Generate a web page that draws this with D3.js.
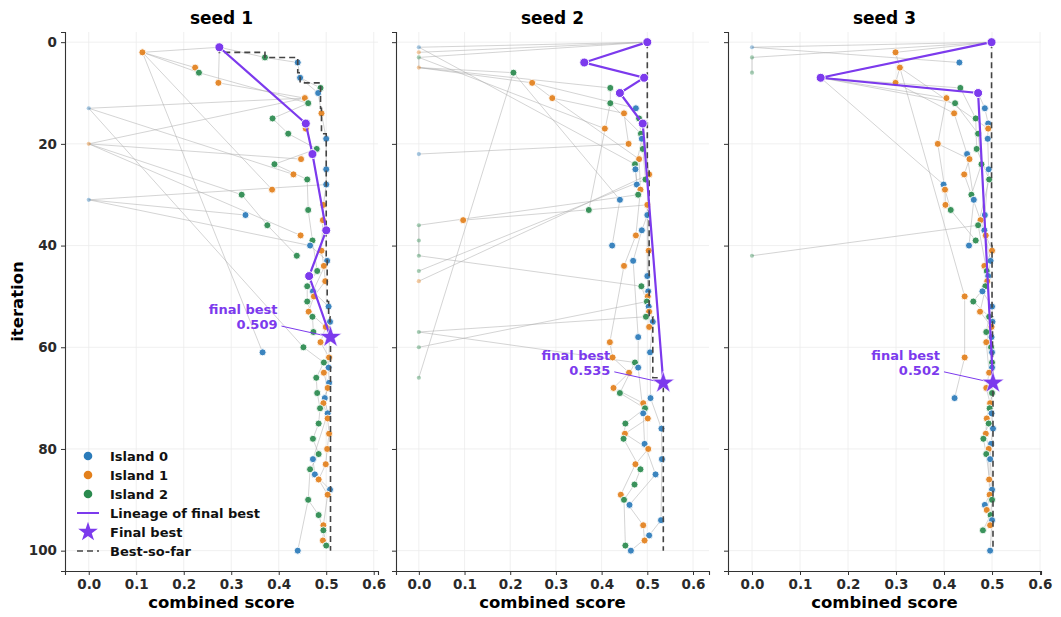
<!DOCTYPE html>
<html>
<head>
<meta charset="utf-8">
<script src="https://cdn.jsdelivr.net/npm/d3@7"></script>
<style>
  body { margin: 0; background: #fff; }
  svg { font-family: "DejaVu Sans", sans-serif; }
</style>
</head>
<body>
<div class="chart"></div>
<script>
// ---- data ----
const seedTitles = ["seed 1", "seed 2", "seed 3"];
const islandNames = ["Island 0", "Island 1", "Island 2"];
const xTicks = [0, 0.1, 0.2, 0.3, 0.4, 0.5, 0.6];
const yTicks = [0, 20, 40, 60, 80, 100];
const finalBest = [0.509, 0.535, 0.502];

// seed 1
const s1Iter = [1,2,3,4,5,6,7,8,9,10,11,12,13,14,15,16,17,18,19,20,21,22,23,24,25,26,27,28,29,30,
  31,32,33,34,35,36,37,38,39,40,41,42,43,44,45,46,47,48,49,50,51,52,53,54,55,56,57,58,59,60,
  61,62,63,64,65,66,67,68,69,70,71,72,73,74,75,77,78,80,81,82,83,84,85,86,88,89,90,93,95,96,98,99,100];
const s1Score = [0.275,0.113,0.371,0.44,0.224,0.232,0.445,0.273,0.488,0.483,
  0.455,0.462,0,0.49,0.387,0.457,0.457,0.42,0.5,0,
  0.48,0.471,0.447,0.391,0.5,0.431,0.46,0.5,0.386,0.322,
  0,0.494,0.462,0.33,0.493,0.376,0.5,0.446,0.471,0.466,
  0.49,0.438,0.502,0.495,0.481,0.464,0.498,0.46,0.472,0.474,
  0.46,0.505,0.463,0.471,0.508,0.499,0.473,0.509,0.488,0.452,
  0.366,0.506,0.495,0.505,0.495,0.479,0.506,0.503,0.481,0.497,
  0.494,0.487,0.503,0.503,0.484,0.506,0.472,0.502,0.484,0.472,
  0.499,0.466,0.476,0.484,0.508,0.503,0.462,0.484,0.494,0.494,0.493,0.5,0.44];
const s1Island = [0,1,2,0,1,2,0,1,2,0,1,2,0,1,2,0,1,2,0,1,2,0,1,2,0,1,2,0,1,2,
  0,1,2,0,1,2,0,1,2,0,1,2,0,1,2,0,1,2,0,1,2,0,1,2,0,1,2,0,1,2,
  0,1,2,0,1,2,0,1,2,0,1,2,0,1,2,1,2,1,2,0,1,2,0,1,0,1,2,2,1,2,1,2,0];
const s1Parent = [-1,1,1,3,2,2,4,1,7,7,8,6,11,10,12,1,16,15,14,11,
  18,16,20,21,19,13,24,25,2,20,28,28,27,31,32,30,22,20,33,31,
  35,36,40,41,39,37,44,45,43,47,48,49,50,51,52,53,54,46,56,13,
  2,59,60,55,62,63,64,65,66,67,68,69,70,71,72,74,75,77,78,73,
  80,81,82,83,85,86,84,90,89,93,95,96,90];
const s1Lineage = [1, 16, 22, 37, 46, 58];

// seed 2
const s2Iter = [0,1,2,3,4,5,6,7,8,9,10,11,12,13,14,15,16,17,18,19,20,21,22,23,24,25,26,27,28,29,30,
  31,32,33,34,35,36,37,38,39,40,41,42,43,44,45,46,47,48,49,50,51,52,53,54,55,56,57,58,59,60,
  61,62,63,64,65,66,67,68,69,70,71,72,73,74,75,76,77,78,79,80,82,83,84,85,87,89,90,91,94,95,97,98,99,100];
const s2Score = [0.5,0,0,0,0.362,0,0.207,0.493,0.248,0.419,0.44,
  0.292,0.419,0.475,0.449,0.482,0.49,0.407,0.486,0.488,0.459,
  0.49,0,0.482,0.473,0.474,0.504,0.496,0.477,0.485,0.48,
  0.44,0.5,0.372,0.5,0.097,0,0.488,0.475,0,0.423,
  0.503,0,0.469,0.449,0,0.5,0,0.487,0.502,0.501,
  0.499,0.503,0.504,0.497,0.512,0.504,0,0.48,0.418,0,
  0.506,0.424,0.473,0.48,0.46,0,0.535,0.426,0.44,0.507,
  0.491,0.495,0.491,0.501,0.452,0.531,0.451,0.448,0.494,0.502,
  0.532,0.474,0.485,0.518,0.472,0.442,0.449,0.461,0.53,0.491,0.504,0.494,0.452,0.464];
const s2Island = [0,0,1,2,0,1,2,0,1,2,0,1,2,0,1,2,0,1,2,0,1,2,0,1,2,0,1,2,0,1,2,
  0,1,2,0,1,2,0,1,2,0,1,2,0,1,2,0,1,2,0,1,2,0,1,2,0,1,2,0,1,2,
  0,1,2,0,1,2,0,1,2,0,1,2,0,1,2,0,1,2,0,1,0,1,2,0,2,1,2,0,0,1,0,1,2,0];
const s2Parent = [-1,0,0,0,0,3,5,4,5,5,7,8,9,8,11,10,10,3,12,16,14,
  15,20,11,1,19,16,21,25,23,24,6,26,12,32,32,30,34,29,36,31,
  32,39,37,38,27,34,26,42,46,41,48,49,50,51,52,53,54,43,44,51,
  55,59,57,58,62,6,16,65,63,61,68,69,64,71,72,70,74,75,73,77,
  76,80,78,79,84,83,87,85,82,89,94,95,90,97];
const s2Lineage = [0, 4, 7, 10, 16, 67];

// seed 3
const s3Iter = [0,1,2,3,4,5,6,7,8,9,10,11,12,13,14,15,16,17,18,19,20,21,22,23,24,25,26,27,28,29,30,
  31,32,33,34,35,36,37,38,39,40,41,42,43,44,45,46,47,48,49,50,51,52,53,54,55,56,57,58,59,60,
  61,62,63,64,65,67,68,69,70,71,72,73,74,75,76,77,78,79,80,81,82,86,88,89,90,91,92,93,94,95,96,100];
const s3Score = [0.499,0,0.299,0,0.432,0.308,0,0.143,0.299,0.434,0.471,
  0.405,0.423,0.485,0.421,0.466,0.492,0.492,0.471,0.491,0.387,
  0.468,0.448,0.453,0.478,0.493,0.442,0.494,0.399,0.402,0.457,
  0.462,0.403,0.414,0.485,0.476,0.471,0.484,0.487,0.466,0.452,
  0.5,0,0.497,0.484,0.489,0.492,0.49,0.486,0.48,0.443,
  0.461,0.5,0.475,0.494,0.501,0.499,0.488,0.499,0.488,0.498,
  0.5,0.443,0.5,0.5,0.494,0.502,0.488,0.5,0.422,0.496,
  0.495,0.499,0.489,0.493,0.502,0.487,0.482,0.498,0.493,0.488,
  0.496,0.494,0.5,0.495,0.5,0.485,0.489,0.497,0.5,0.496,0.481,0.496];
const s3Island = [0,0,1,2,0,1,2,0,1,2,0,1,2,0,1,2,0,1,2,0,1,2,0,1,2,0,1,2,0,1,2,
  0,1,2,0,1,2,0,1,2,0,1,2,0,1,2,0,1,2,0,1,2,0,1,2,0,1,2,0,1,2,
  0,1,2,0,1,0,1,2,0,1,2,0,1,2,0,1,2,0,1,2,0,1,0,1,2,0,1,2,0,1,2,0];
const s3Parent = [-1,0,0,0,1,2,3,0,5,7,7,7,7,10,8,9,13,5,12,16,11,
  15,14,20,18,19,23,21,7,20,24,22,29,28,25,26,27,34,35,33,31,
  38,36,37,41,36,43,44,45,46,5,48,49,47,51,52,53,54,55,56,57,
  58,50,60,61,59,10,65,63,62,68,69,64,71,72,73,74,75,76,77,78,
  79,80,82,86,81,88,89,90,91,92,93,94];
const s3Lineage = [0, 7, 10, 67];

// ---- layout ----
const svgWidth = 1061, svgHeight = 617;
const panelLeft = [65, 396, 728];
const panelTop = 32;
const width = 313, height = 539;

const purple = "#7c3aed";
const islandColors = ["#2b7bba", "#e3801c", "#2a8a4e"];

const svg = d3.select(".chart").append("svg")
  .attr("width", svgWidth).attr("height", svgHeight);

const seeds = [
  [s1Iter, s1Score, s1Island, s1Parent, s1Lineage],
  [s2Iter, s2Score, s2Island, s2Parent, s2Lineage],
  [s3Iter, s3Score, s3Island, s3Parent, s3Lineage]
];

seeds.forEach(([iters, scores, isl, parents, lineage], k) => {
  const g = svg.append("g").attr("transform", `translate(${panelLeft[k]},${panelTop})`);
  const x = d3.scaleLinear().domain([-0.05, finalBest[k] + 0.1]).range([0, width]);
  const y = d3.scaleLinear().domain([-2, 104]).range([0, height]);

  const pts = iters.map((it, i) => ({it: it, s: scores[i], isl: isl[i], p: parents[i]}));
  const byIter = new Map(pts.map(d => [d.it, d]));

  // grid
  g.append("g").selectAll("line").data(xTicks).join("line")
    .attr("x1", d => x(d)).attr("x2", d => x(d)).attr("y1", 0).attr("y2", height)
    .attr("stroke", "#ececec").attr("stroke-width", 0.8);
  g.append("g").selectAll("line").data(yTicks).join("line")
    .attr("y1", d => y(d)).attr("y2", d => y(d)).attr("x1", 0).attr("x2", width)
    .attr("stroke", "#ececec").attr("stroke-width", 0.8);

  // parent -> child edges
  g.append("g").selectAll("line").data(pts.filter(d => byIter.has(d.p))).join("line")
    .attr("x1", d => x(byIter.get(d.p).s)).attr("y1", d => y(d.p))
    .attr("x2", d => x(d.s)).attr("y2", d => y(d.it))
    .attr("stroke", "#aaaaaa").attr("stroke-opacity", 0.6).attr("stroke-width", 0.85);

  // points
  g.append("g").selectAll("circle").data(pts).join("circle")
    .attr("cx", d => x(d.s)).attr("cy", d => y(d.it))
    .attr("r", d => d.s === 0 ? 2.1 : 3.5)
    .attr("fill", d => islandColors[d.isl])
    .attr("fill-opacity", d => d.s === 0 ? 0.4 : 0.92)
    .attr("stroke", d => d.s === 0 ? "none" : "#fff")
    .attr("stroke-width", 0.9);

  // best so far
  let best = -1;
  const bsf = pts.map(d => { best = Math.max(best, d.s); return {it: d.it, s: best}; });
  g.append("path").datum(bsf)
    .attr("d", d3.line().x(d => x(d.s)).y(d => y(d.it)).curve(d3.curveStepAfter))
    .attr("fill", "none").attr("stroke", "#444").attr("stroke-width", 1.6)
    .attr("stroke-dasharray", "6,4");

  // lineage
  const lin = lineage.map(it => byIter.get(it));
  g.append("path").datum(lin)
    .attr("d", d3.line().x(d => x(d.s)).y(d => y(d.it)))
    .attr("fill", "none").attr("stroke", purple).attr("stroke-width", 2.2);
  g.append("g").selectAll("circle").data(lin.slice(0, -1)).join("circle")
    .attr("cx", d => x(d.s)).attr("cy", d => y(d.it)).attr("r", 4.5)
    .attr("fill", purple).attr("stroke", "#fff").attr("stroke-width", 1);

  // final best star + annotation
  const fb = lin[lin.length - 1];
  const sx = x(fb.s), sy = y(fb.it);
  g.append("line")
    .attr("x1", sx - 49).attr("y1", sy - 11).attr("x2", sx - 4).attr("y2", sy - 1)
    .attr("stroke", purple).attr("stroke-width", 1);
  g.append("path")
    .attr("d", d3.symbol(d3.symbolStar, 155)())
    .attr("transform", `translate(${sx},${sy})`)
    .attr("fill", purple).attr("stroke", "#fff").attr("stroke-width", 0.6);
  const ann = g.append("text").attr("text-anchor", "end")
    .attr("fill", purple).attr("font-weight", "bold").attr("font-size", 13);
  ann.append("tspan").attr("x", sx - 53).attr("y", sy - 23).text("final best");
  ann.append("tspan").attr("x", sx - 53).attr("y", sy - 8).text(d3.format(".3f")(finalBest[k]));

  // axes
  const xAxis = g.append("g").attr("transform", `translate(0,${height})`)
    .call(d3.axisBottom(x).tickValues(xTicks).tickFormat(d3.format(".1f")).tickSizeOuter(0).tickSize(4).tickPadding(4));
  const yAxis = g.append("g")
    .call(d3.axisLeft(y).tickValues(yTicks).tickFormat(k === 0 ? d3.format("d") : "").tickSizeOuter(0).tickSize(4).tickPadding(4));
  [xAxis, yAxis].forEach(a => {
    a.select(".domain").attr("stroke", "#333").attr("stroke-width", 1.1);
    a.selectAll(".tick line").attr("stroke", "#333");
    a.selectAll("text").attr("font-size", 13.5).attr("font-weight", "bold")
      .attr("fill", "#2a2a2a").attr("font-family", "DejaVu Sans, sans-serif");
  });

  g.append("text").attr("x", width / 2).attr("y", -8).attr("text-anchor", "middle")
    .attr("font-size", 17).attr("font-weight", "bold").text(seedTitles[k]);
  g.append("text").attr("x", width / 2).attr("y", height + 37).attr("text-anchor", "middle")
    .attr("font-size", 16.5).attr("font-weight", "bold").text("combined score");
});

// y label
svg.append("text")
  .attr("transform", `translate(23,${panelTop + height / 2}) rotate(-90)`)
  .attr("text-anchor", "middle").attr("font-size", 16.5).attr("font-weight", "bold")
  .text("iteration");

// legend (panel 1, lower left)
const legend = svg.append("g").attr("transform", "translate(77,456)");
const rowH = 19;
islandNames.forEach((name, i) => {
  legend.append("circle").attr("cx", 11).attr("cy", i * rowH).attr("r", 4.3)
    .attr("fill", islandColors[i]);
});
legend.append("line").attr("x1", 0).attr("x2", 22).attr("y1", 3 * rowH).attr("y2", 3 * rowH)
  .attr("stroke", purple).attr("stroke-width", 2);
legend.append("path").attr("d", d3.symbol(d3.symbolStar, 120)())
  .attr("transform", `translate(11,${4 * rowH})`).attr("fill", purple);
legend.append("line").attr("x1", 0).attr("x2", 22).attr("y1", 5 * rowH).attr("y2", 5 * rowH)
  .attr("stroke", "#444").attr("stroke-width", 1.6).attr("stroke-dasharray", "6,4");
const legendLabels = islandNames.concat(["Lineage of final best", "Final best", "Best-so-far"]);
legend.selectAll("text.lab").data(legendLabels).join("text")
  .attr("class", "lab")
  .attr("x", 33).attr("y", (d, i) => i * rowH + 4.5)
  .attr("font-size", 13).attr("font-weight", "bold").attr("fill", "#111")
  .text(d => d);
</script>
</body>
</html>
